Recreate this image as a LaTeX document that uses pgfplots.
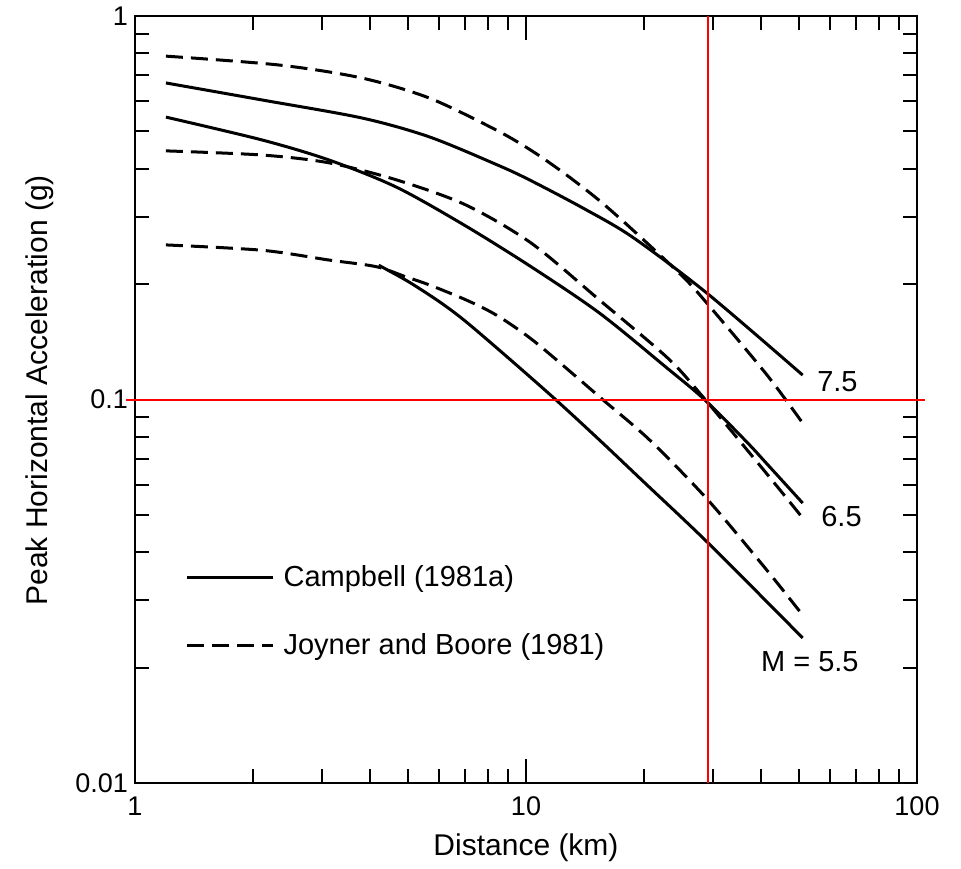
\documentclass[border=0pt]{standalone}
\usepackage{fontspec}
\setmainfont{Liberation Sans}
\usepackage{pgfplots}
\pgfplotsset{compat=1.18}

\begin{document}
\begin{tikzpicture}
\begin{axis}[
    xmode=log, ymode=log,
    width=391pt, height=383.5pt, scale only axis,
    xmin=1, xmax=100, ymin=0.01, ymax=1,
    xtick={1,10,100}, xticklabels={1,10,100},
    ytick={0.01,0.1,1}, yticklabels={0.01,0.1,1},
    minor xtick={2,3,4,5,6,7,8,9,20,30,40,50,60,70,80,90},
    minor ytick={0.02,0.03,0.04,0.05,0.06,0.07,0.08,0.09,0.2,0.3,0.4,0.5,0.6,0.7,0.8,0.9},
    tick label style={font=\fontsize{13.5}{16}\selectfont},
    x tick label style={yshift=-3.5pt},
    major tick length=12pt, minor tick length=7pt,
    tick style={black, line width=1pt},
    axis line style={line width=1.3pt},
    xlabel={Distance (km)},
    ylabel={Peak Horizontal Acceleration (g)},
    label style={font=\fontsize{15}{18}\selectfont},
    x label style={at={(axis description cs:0.5,-0.085)}, anchor=center},
    y label style={at={(axis description cs:-0.1215,0.512)}, anchor=center},
    clip=false,
    legend cell align=left,
    legend style={draw=none, fill=none, at={(axis description cs:0.0652,0.283)},
        anchor=north west, inner sep=0pt, outer sep=0pt, row sep=21.8pt,
        column sep=4.3pt, font=\fontsize{14.5}{17}\selectfont, nodes={inner sep=0pt}},
    legend image code/.code={\draw[#1] (0pt,0pt) -- (43pt,0pt);},
    solid curve/.style={black, line width=1.5pt, smooth},
    dashed curve/.style={black, line width=1.5pt, smooth, dash pattern=on 8.5pt off 4pt},
]

% Campbell (1981a), M = 7.5
\addplot[solid curve] coordinates {
    (1.2,0.669) (2.115,0.604) (3.81,0.542) (5.66,0.484)
    (8.4,0.410) (10.2,0.374) (14.0,0.3155) (18.74,0.265) (29.0,0.1895) (51,0.1158)
};
\addlegendentry{Campbell (1981a)}

% Joyner and Boore (1981), M = 7.5
\addplot[dashed curve] coordinates {
    (1.2,0.786) (2.34,0.745) (3.81,0.689) (5.66,0.611) (8.4,0.504)
    (10.39,0.444) (12.7,0.385) (15.42,0.330) (18.74,0.277) (25.2,0.209)
    (29.2,0.177) (41.3,0.116) (51,0.0868)
};
\addlegendentry{Joyner and Boore (1981)}

% M = 6.5
\addplot[solid curve, forget plot] coordinates {
    (1.2,0.545) (2.115,0.475) (3.14,0.421) (4.66,0.358) (6.95,0.285)
    (10.3,0.222) (15.42,0.168) (22.9,0.121) (28.6,0.1) (36.7,0.0775)
    (41.3,0.068) (51,0.0537)
};
\addplot[dashed curve, forget plot] coordinates {
    (1.2,0.445) (2.115,0.434) (3.14,0.414) (4.66,0.374) (7.0,0.322)
    (10.3,0.256) (15.42,0.1817) (22.9,0.129) (27.8,0.104) (41.3,0.064) (51,0.0491)
};

% M = 5.5
\addplot[solid curve, forget plot] coordinates {
    (4.2,0.224) (5.0,0.203) (6.0,0.180) (7.0,0.160) (9.0,0.1285) (11.9,0.1)
    (15.42,0.0784) (20,0.061) (29.2,0.0423) (51,0.0239)
};
\addplot[dashed curve, forget plot] coordinates {
    (1.2,0.253) (2.115,0.245) (3.14,0.231) (4.14,0.222) (4.94,0.2087)
    (5.66,0.199) (7.04,0.1817) (8.4,0.166) (10.39,0.143) (13.95,0.111)
    (15.7,0.1) (20.72,0.0784) (29.2,0.0547) (41.3,0.0359) (51,0.0274)
};

\node[font=\fontsize{14.5}{17}\selectfont] at (axis cs:62.6,0.111) {7.5};
\node[font=\fontsize{14.5}{17}\selectfont] at (axis cs:64.1,0.0494) {6.5};
\node[font=\fontsize{14.5}{17}\selectfont] at (axis cs:53.2,0.0207) {M = 5.5};

% red guide lines
\draw[red, line width=1pt] (axis cs:29.2,0.01) -- (axis cs:29.2,1);
\draw[red, line width=1pt] (axis description cs:-0.0115,0.5) -- (axis description cs:1.0102,0.5);
\end{axis}
\path ([shift={(-67.5pt,-39.5pt)}]current axis.south west) rectangle ([shift={(413pt,391.5pt)}]current axis.south west);
\end{tikzpicture}
\end{document}
